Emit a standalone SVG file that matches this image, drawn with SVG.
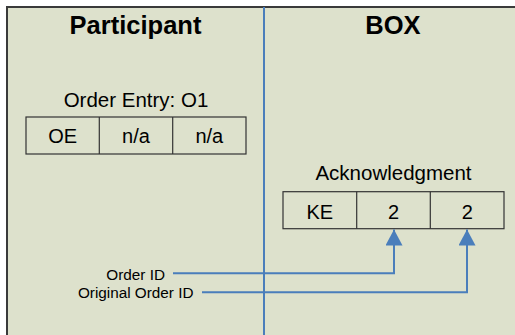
<svg xmlns="http://www.w3.org/2000/svg" width="515" height="335" viewBox="0 0 515 335">
<style>
text{font-family:"Liberation Sans",Arial,sans-serif;fill:#000}
.hdr{font-size:25.5px;font-weight:bold;text-anchor:middle}
.ttl{font-size:20.5px;text-anchor:middle}
.cell{font-size:20px;text-anchor:middle}
.lbl{font-size:15.3px;text-anchor:end}
.box{fill:none;stroke:#333;stroke-width:1.2}
.conn{fill:none;stroke:#4a7ebb;stroke-width:2}
</style>
<defs>
<marker id="arr" viewBox="0 0 10 10" refX="10" refY="5" markerWidth="16" markerHeight="17" markerUnits="userSpaceOnUse" orient="auto" preserveAspectRatio="none">
<path d="M0,0 L10,5 L0,10 Z" fill="#4a7ebb"/>
</marker>
</defs>
<rect x="0" y="0" width="515" height="335" fill="#fff"/>
<rect id="frame" x="7" y="7" width="520" height="340" fill="#dde1cc" stroke="#3a3a3a" stroke-width="2"/>
<g id="lanes">
<line x1="264" y1="7" x2="264" y2="335" stroke="#4a7ebb" stroke-width="2"/>
<text class="hdr" x="135.5" y="34">Participant</text>
<text class="hdr" x="393" y="34">BOX</text>
</g>
<g id="order-entry">
<text class="ttl" x="136" y="107">Order Entry: O1</text>
<rect class="box" x="26" y="117" width="220" height="37"/>
<line class="box" x1="99.3" y1="117" x2="99.3" y2="154"/>
<line class="box" x1="172.7" y1="117" x2="172.7" y2="154"/>
<text class="cell" x="62.7" y="142.7">OE</text>
<text class="cell" x="136" y="142.7">n/a</text>
<text class="cell" x="209.3" y="142.7">n/a</text>
</g>
<g id="acknowledgment">
<text class="ttl" x="393.5" y="180">Acknowledgment</text>
<rect class="box" x="283" y="191.7" width="221" height="37"/>
<line class="box" x1="356.7" y1="191.7" x2="356.7" y2="228.7"/>
<line class="box" x1="430.3" y1="191.7" x2="430.3" y2="228.7"/>
<text class="cell" x="319.8" y="219">KE</text>
<text class="cell" x="393.5" y="219">2</text>
<text class="cell" x="467.2" y="219">2</text>
</g>
<g id="labels">
<text class="lbl" x="165" y="280">Order ID</text>
<text class="lbl" x="193.5" y="298">Original Order ID</text>
</g>
<g id="connectors">
<path class="conn" d="M173,273.3 H394 V229.5" marker-end="url(#arr)"/>
<path class="conn" d="M202,292.3 H467 V229.5" marker-end="url(#arr)"/>
</g>
</svg>
